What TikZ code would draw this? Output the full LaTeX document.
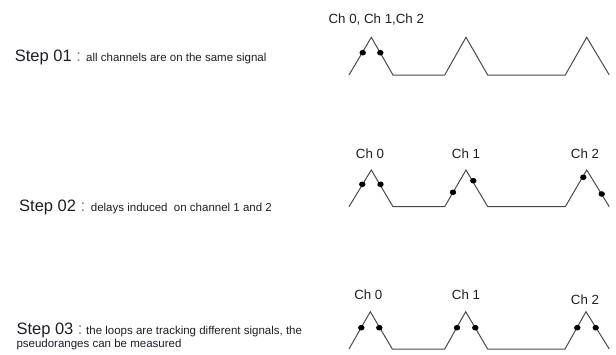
\documentclass[tikz,border=0pt]{standalone}
\usepackage{fontspec}
\setmainfont{Liberation Sans}
\definecolor{txt}{HTML}{1E1E28}
\definecolor{wave}{HTML}{4A4A4A}
\begin{document}
\begin{tikzpicture}[x=1pt,y=-1pt,
  steplbl/.style={anchor=base west,inner sep=0pt,text=txt,font=\fontsize{16.5}{18}\selectfont},
  desc/.style={anchor=base west,inner sep=0pt,text=txt,font=\fontsize{11.5}{13.3}\selectfont,align=left},
  chlbl/.style={inner sep=0pt,text=txt,font=\fontsize{13.3}{15}\selectfont},
  wavel/.style={draw=wave,line width=1pt,line join=miter},
  dotm/.style={fill=black}]
\useasboundingbox (0,0) rectangle (616,354);
% texts
\node[steplbl] (s1) at (14.7,61.7) {Step 01 {\color{gray}:}};
\node[desc] (d1) at (86,61.7) {all channels are on the same signal};
\node[steplbl] (s2) at (19,211.7) {Step 02 {\color{gray}:}};
\node[desc] (d2) at (90.7,211.7) {delays induced\ \ on channel 1 and 2};
\node[steplbl] (s3) at (16.3,334) {Step 03 {\color{gray}:}};
\node[desc] (d3) at (86,334) {the loops are tracking different signals, the};
\node[desc] (d3b) at (16.3,347.3) {pseudoranges can be measured};
% channel labels
\node[chlbl] (c1) at (376.3,20) {Ch 0, Ch 1,Ch 2};
\node[chlbl] (c20) at (370,154) {Ch 0};
\node[chlbl] (c21) at (466,154) {Ch 1};
\node[chlbl] (c22) at (585,154) {Ch 2};
\node[chlbl] (c30) at (368.3,295) {Ch 0};
\node[chlbl] (c31) at (466,295) {Ch 1};
\node[chlbl] (c32) at (585,300) {Ch 2};
% waveform 1
\draw[wavel] (349,75) -- (371.3,37.3) -- (393,75) -- (444.7,75) -- (466,37.3) -- (487.7,75) -- (565.3,75) -- (586.7,37.3) -- (609.3,75);
\fill[dotm] (362.7,52.7) ellipse (3.2pt and 2.8pt);
\fill[dotm] (380.3,52.7) ellipse (3.2pt and 2.8pt);
% waveform 2
\draw[wavel] (349,206.7) -- (371.3,170) -- (393,206.7) -- (444.7,206.7) -- (466,170) -- (487.7,206.7) -- (565.3,206.7) -- (586.7,170) -- (609.3,206.7);
\fill[dotm] (362.3,184.3) ellipse (3.2pt and 2.8pt);
\fill[dotm] (380.5,184.3) ellipse (3.2pt and 2.8pt);
\fill[dotm] (453,192.3) ellipse (3.2pt and 2.8pt);
\fill[dotm] (473.3,180.7) ellipse (3.2pt and 2.8pt);
\fill[dotm] (583.3,177.3) ellipse (3.2pt and 2.8pt);
\fill[dotm] (601.7,194) ellipse (3.2pt and 2.8pt);
% waveform 3
\draw[wavel] (349,349) -- (370.3,311.7) -- (392.3,349) -- (444.7,349) -- (465.7,311.7) -- (487.7,349) -- (565,349) -- (586,311.7) -- (609.3,349);
\fill[dotm] (361.3,327.7) ellipse (3.2pt and 2.8pt);
\fill[dotm] (379.3,327.7) ellipse (3.2pt and 2.8pt);
\fill[dotm] (457,327.7) ellipse (3.2pt and 2.8pt);
\fill[dotm] (475.3,327.7) ellipse (3.2pt and 2.8pt);
\fill[dotm] (577.3,327.7) ellipse (3.2pt and 2.8pt);
\fill[dotm] (595.7,327.7) ellipse (3.2pt and 2.8pt);
\end{tikzpicture}
\end{document}
